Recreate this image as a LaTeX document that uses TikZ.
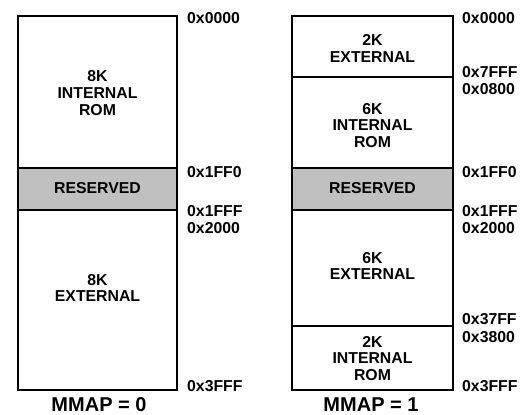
\documentclass[tikz,border=0pt]{standalone}
\usepackage{fontspec}
\setmainfont{Liberation Sans}
\definecolor{resgray}{RGB}{192,192,192}
\begin{document}
\begin{tikzpicture}[x=1pt,y=-1pt,
  blk/.style={font=\fontsize{15.8}{16.8}\selectfont\bfseries,align=center,inner sep=0pt},
  addr/.style={font=\fontsize{15.8}{16.8}\selectfont\bfseries,anchor=west,inner sep=0pt},
  mmaplabel/.style={font=\fontsize{20}{22}\selectfont\bfseries,inner sep=0pt}]
\useasboundingbox (0,0) rectangle (525,415);
% MMAP = 0
\fill[resgray] (18,168) rectangle (177,210);
\draw[line width=1.7pt] (18,168) -- (177,168);
\draw[line width=1.7pt] (18,210) -- (177,210);
\draw[line width=2.6pt] (18,16) rectangle (177,390);
\node[blk] (rom0) at (97.5,93) {8K\\INTERNAL\\ROM};
\node[blk] (res0) at (97.5,188.5) {RESERVED};
\node[blk] (ext0) at (97.5,288) {8K\\EXTERNAL};
\node[addr] (a0) at (187,18) {0x0000};
\node[addr] (a1) at (187,172) {0x1FF0};
\node[addr] (a2) at (187,211) {0x1FFF};
\node[addr] (a3) at (187,228) {0x2000};
\node[addr] (a4) at (187,386) {0x3FFF};
\node[mmaplabel] (mmap0) at (99,405) {MMAP = 0};

% MMAP = 1
\fill[resgray] (292,168) rectangle (453,210);
\draw[line width=1.7pt] (292,77) -- (453,77);
\draw[line width=1.7pt] (292,168) -- (453,168);
\draw[line width=1.7pt] (292,210) -- (453,210);
\draw[line width=1.7pt] (292,326) -- (453,326);
\draw[line width=2.6pt] (292,16) rectangle (453,390);
\node[blk] (ext1a) at (372.5,48.5) {2K\\EXTERNAL};
\node[blk] (rom1a) at (372.5,125.5) {6K\\INTERNAL\\ROM};
\node[blk] (res1) at (372.5,188.5) {RESERVED};
\node[blk] (ext1b) at (372.5,266) {6K\\EXTERNAL};
\node[blk] (rom1b) at (372.5,358.5) {2K\\INTERNAL\\ROM};
\node[addr] (b0) at (462,18) {0x0000};
\node[addr] (b1) at (462,72) {0x7FFF};
\node[addr] (b2) at (462,89) {0x0800};
\node[addr] (b3) at (462,172) {0x1FF0};
\node[addr] (b4) at (462,211) {0x1FFF};
\node[addr] (b5) at (462,228) {0x2000};
\node[addr] (b6) at (462,319) {0x37FF};
\node[addr] (b7) at (462,337) {0x3800};
\node[addr] (b8) at (462,386) {0x3FFF};
\node[mmaplabel] (mmap1) at (371,405) {MMAP = 1};
\end{tikzpicture}
\end{document}
